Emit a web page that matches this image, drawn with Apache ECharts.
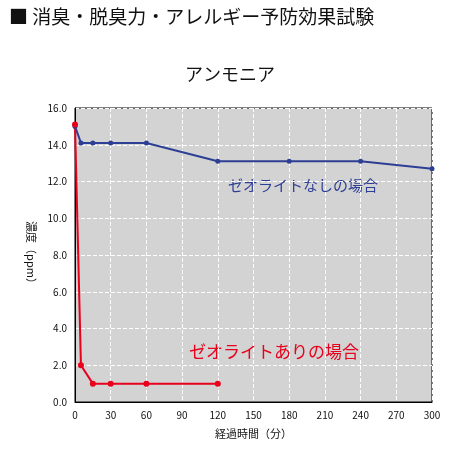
<!DOCTYPE html><html><head><meta charset="utf-8"><script src="https://cdn.jsdelivr.net/npm/echarts@6/dist/echarts.min.js"></script>
<style>body{margin:0;background:#fff}#c{width:460px;height:458px}</style></head><body><div id="c"></div><script>
const blueData=[[0,15.0],[5,14.1],[15,14.1],[30,14.1],[60,14.1],[120,13.1],[180,13.1],[240,13.1],[300,12.7]];
const redData=[[0,15.1],[5,2.0],[15,1.0],[30,1.0],[60,1.0],[120,1.0]];
const xTicks=[0,30,60,90,120,150,180,210,240,270,300];
const F='"Noto Sans CJK JP", sans-serif';
const c=echarts.init(document.getElementById('c'));
c.setOption({
 animation:false,
 title:[{text:'■ 消臭・脱臭力・アレルギー予防効果試験',left:4,top:2,textStyle:{fontFamily:F,fontSize:19,fontWeight:'normal',color:'#111'}},
  {text:'アンモニア',left:'center',top:60,textStyle:{fontFamily:F,fontSize:18,fontWeight:'normal',color:'#111'}}],
 grid:{left:75,right:28,top:108,bottom:56,backgroundColor:'#d3d3d3',show:true,borderColor:'#000',borderWidth:1},
 xAxis:{type:'value',min:0,max:300,interval:30,name:'経過時間（分）',nameLocation:'middle',nameGap:26,
  nameTextStyle:{fontFamily:F,fontSize:11,color:'#111'},
  axisLine:{lineStyle:{color:'#000'}},axisTick:{show:false},axisLabel:{fontSize:10,color:'#111',fontFamily:F},
  splitLine:{lineStyle:{color:'#fff',type:'dashed'}}},
 yAxis:{type:'value',min:0,max:16,interval:2,name:'濃度（ppm）',nameLocation:'middle',nameRotate:-90,nameGap:38,
  nameTextStyle:{fontFamily:F,fontSize:11,color:'#111'},
  axisLine:{show:true,lineStyle:{color:'#000'}},axisTick:{show:false},
  axisLabel:{fontSize:10,color:'#111',formatter:v=>v.toFixed(1),fontFamily:F},
  splitLine:{lineStyle:{color:'#fff',type:'dashed'}}},
 graphic:[
  {type:'text',left:228,top:178,style:{text:'ゼオライトなしの場合',font:'15px '+F,fill:'#2d3f94'}},
  {type:'text',left:189,top:343,style:{text:'ゼオライトありの場合',font:'17px '+F,fill:'#e8001c'}}
 ],
 series:[
  {type:'line',data:blueData,symbol:'circle',symbolSize:5,itemStyle:{color:'#2d3f94'},lineStyle:{width:2,color:'#2d3f94'}},
  {type:'line',data:redData,symbol:'circle',symbolSize:6,itemStyle:{color:'#e8001c'},lineStyle:{width:2,color:'#e8001c'}}
 ]
});
</script></body></html>
